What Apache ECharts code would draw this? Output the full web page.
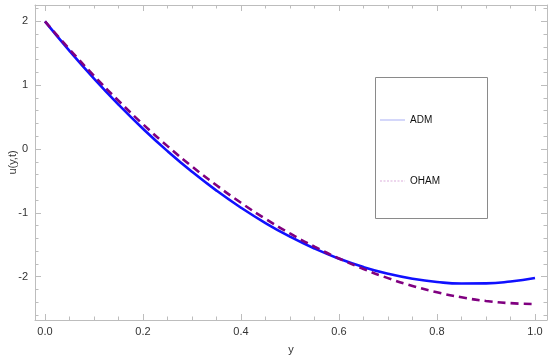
<!DOCTYPE html>
<html><head><meta charset="utf-8">
<script src="https://cdn.jsdelivr.net/npm/echarts@6/dist/echarts.min.js"></script>
<style>html,body{margin:0;padding:0;background:#fff}#c{width:550px;height:355px}</style>
</head><body><div id="c"></div>
<script>
var yValues = [0,0.05,0.1,0.15,0.2,0.25,0.3,0.35,0.4,0.45,0.5,0.55,0.6,0.65,0.7,0.75,0.8,0.85,0.9,0.95,1.0];
var admValues = [2,1.5375,1.1031,0.6965,0.3178,-0.0331,-0.3564,-0.6520,-0.9202,-1.1609,-1.3742,-1.5603,-1.7191,-1.8508,-1.9555,-2.0333,-2.0842,-2.1082,-2.1056,-2.0763,-2.0205];
var ohamValues = [2,1.5630,1.1480,0.7560,0.3880,0.0450,-0.2730,-0.5690,-0.8430,-1.0950,-1.3240,-1.5310,-1.7160,-1.8800,-2.0238,-2.1457,-2.2459,-2.3243,-2.3814,-2.4161,-2.4296];
var xMajorTicks = [0,0.2,0.4,0.6,0.8,1.0];
var xMinorTicks = [0.05,0.1,0.15,0.25,0.3,0.35,0.45,0.5,0.55,0.65,0.7,0.75,0.85,0.9,0.95];
var yMajorTicks = [-2,-1,0,1,2];
var yMinorTicks = [-2.6,-2.4,-2.2,-1.8,-1.6,-1.4,-1.2,-0.8,-0.6,-0.4,-0.2,0.2,0.4,0.6,0.8,1.2,1.4,1.6,1.8,2.2];
var seriesNames = ['ADM','OHAM'];

var FRAME='#bdbdbd', TXT='#333', FONT='Liberation Sans';
var XMIN=-0.0204, XMAX=1.0245, YMIN=-2.68, YMAX=2.257;
function xAx(pos, ticks, len, labels, line){
  return {type:'value', position:pos, min:XMIN, max:XMAX,
    name: labels?'y':'', nameLocation:'middle', nameGap:24,
    nameTextStyle:{color:TXT,fontFamily:FONT,fontSize:11},
    axisLine:{show:line,onZero:false,lineStyle:{color:FRAME,width:1}},
    axisTick:{show:true,inside:true,length:len,customValues:ticks,lineStyle:{color:FRAME}},
    axisLabel:{show:labels,customValues:ticks,margin:6,color:TXT,fontFamily:FONT,fontSize:11,
      formatter:function(v){return v.toFixed(1);}},
    splitLine:{show:false}};
}
function yAx(pos, ticks, len, labels, line){
  return {type:'value', position:pos, min:YMIN, max:YMAX,
    name: labels?'u(y,t)':'', nameLocation:'middle', nameGap:17, nameMoveOverlap:false,
    nameTextStyle:{color:TXT,fontFamily:FONT,fontSize:11},
    axisLine:{show:line,onZero:false,lineStyle:{color:FRAME,width:1}},
    axisTick:{show:true,inside:true,length:len,customValues:ticks,lineStyle:{color:FRAME}},
    axisLabel:{show:labels,customValues:ticks,margin:7,color:TXT,fontFamily:FONT,fontSize:11,
      formatter:function(v){return String(v);}},
    splitLine:{show:false}};
}
var chart = echarts.init(document.getElementById('c'), null, {renderer:'canvas'});
function pairs(vals){return yValues.map(function(x,i){return [x,vals[i]];});}
var solidIcon = 'path://M0,0h25v1h-25z';
var dotIcon = 'path://M0,0h2v1h-2z M3.5,0h2v1h-2z M7,0h2v1h-2z M10.5,0h2v1h-2z M14,0h2v1h-2z M17.5,0h2v1h-2z M21,0h2v1h-2z M24.5,0h0.5v1h-0.5z';
chart.setOption({
  animation:false,
  backgroundColor:'#fff',
  grid:{left:35,right:3,top:5,bottom:35,containLabel:false,outerBoundsMode:'none'},
  xAxis:[xAx('bottom',xMajorTicks,6,true,true), xAx('bottom',xMinorTicks,3.5,false,false),
         xAx('top',xMajorTicks,6,false,true), xAx('top',xMinorTicks,3.5,false,false)],
  yAxis:[yAx('left',yMajorTicks,6,true,true), yAx('left',yMinorTicks,3.5,false,false),
         yAx('right',yMajorTicks,6,false,true), yAx('right',yMinorTicks,3.5,false,false)],
  legend:{orient:'vertical', left:375, top:110, itemGap:51, itemWidth:25, itemHeight:12, itemSymbolKeepAspect:false,
    textStyle:{color:'#111',fontFamily:FONT,fontSize:10},
    data:[{name:seriesNames[0], icon:solidIcon, itemStyle:{color:'#a8aef5',opacity:1,borderWidth:0}},
          {name:seriesNames[1], icon:dotIcon, itemStyle:{color:'#dcaedc',opacity:1,borderWidth:0}}]},
  graphic:[{type:'rect', shape:{x:375.5,y:77.5,width:112,height:141}, style:{fill:'none',stroke:'#8a8a8a',lineWidth:1}, z:10}],
  series:[
    {name:seriesNames[0], type:'line', symbol:'none', smooth:true, xAxisIndex:0, yAxisIndex:0,
      data:pairs(admValues), lineStyle:{color:'#1010ff',width:2.6}, itemStyle:{color:'#1010ff'}, z:3},
    {name:seriesNames[1], type:'line', symbol:'none', smooth:true, xAxisIndex:0, yAxisIndex:0,
      data:pairs(ohamValues), lineStyle:{color:'#800080',width:2.6,type:[8,5]}, itemStyle:{color:'#800080'}, z:4}
  ]
});
</script></body></html>
